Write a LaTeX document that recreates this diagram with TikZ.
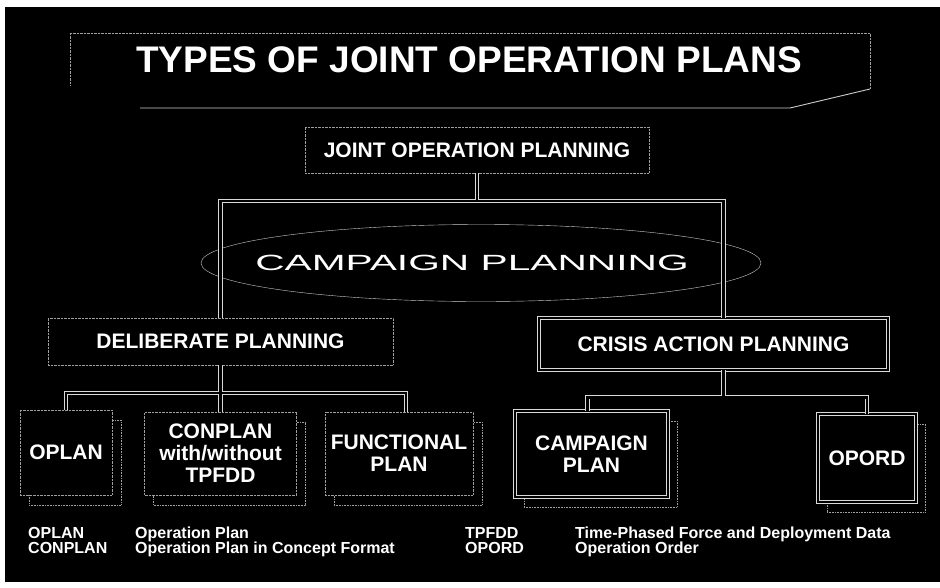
\documentclass[tikz,border=0pt]{standalone}
\usepackage{fontspec}
\setmainfont{Liberation Sans}
\usepackage{tikz}
\usetikzlibrary{shapes.geometric,shadows,positioning}
\newcommand{\titletxt}{\bfseries\fontsize{37}{40}\selectfont}
\newcommand{\plantxt}{\bfseries\fontsize{21}{22}\selectfont}
\newcommand{\notetxt}{\bfseries\fontsize{16}{15}\selectfont}
\tikzset{
  dotbox/.style={draw=gray!75, densely dotted, fill=black, text=white, font=\plantxt, align=center, inner sep=0pt},
  solidbox/.style={draw=white!85!black, double=black, double distance=2pt, line width=.7pt, fill=black, text=white, font=\plantxt, align=center, inner sep=0pt},
  boxshadow/.style={general shadow={shadow xshift=9pt, shadow yshift=-10pt, draw=gray!75, densely dotted, line width=.6pt, fill=black}},
  link/.style={draw=white!85!black, double=black, double distance=2.5pt, line width=.8pt},
  note/.style={text=white, font=\notetxt, anchor=base west, align=left, inner sep=0pt}
}

\begin{document}
\begin{tikzpicture}[x=1pt, y=-1pt]
  \useasboundingbox (0,0) rectangle (940,587);
  \fill[white] (0,0) rectangle (940,587);
  \fill[black] (5,7) rectangle (940,582);

  \draw[gray!75, densely dotted] (70,85) |- (870,33) -- (870,89);
  \draw[white!80!black, line width=.9pt] (140,108) -- (790,108) -- (870,89);
  \node[text=white, font=\titletxt, anchor=base] (title) at (469,72) {TYPES OF JOINT OPERATION PLANS};

  \node[dotbox, minimum width=344pt, minimum height=46pt] (jop) at (477,150) {JOINT OPERATION PLANNING};
  \node[draw=white!80!black, ellipse, minimum width=560pt, minimum height=77pt, inner sep=0pt, text=white,
        font=\fontsize{22}{24}\selectfont] (camp) at (481,263)
        {\makebox[0pt]{\hspace{-18pt}\scalebox{1.85}[1]{CAMPAIGN PLANNING}}};

  \node[dotbox, minimum width=345pt, minimum height=47pt] (delib) at (220.5,341.5) {DELIBERATE PLANNING};
  \node[solidbox, minimum width=349pt, minimum height=52pt] (crisis) at (713.5,344) {CRISIS ACTION PLANNING};

  \node[dotbox, boxshadow, minimum width=92pt, minimum height=85pt] (oplan) at (66,452.5) {OPLAN};
  \node[dotbox, boxshadow, minimum width=152pt, minimum height=83pt] (conplan) at (220.5,453.5) {CONPLAN\\with/without\\TPFDD};
  \node[dotbox, boxshadow, minimum width=148pt, minimum height=83pt] (functional) at (399,453.5) {FUNCTIONAL\\PLAN};
  \node[solidbox, boxshadow, minimum width=153pt, minimum height=86pt] (cplan) at (591.5,454) {CAMPAIGN\\PLAN};
  \node[solidbox, boxshadow, minimum width=98pt, minimum height=88pt] (opord) at (867,458) {OPORD};

  \draw[link] (jop.south) -- ++(0,28) coordinate (top)
    (top) -| (delib) (top) -| ([xshift=10pt]crisis.north);
  \draw[link] (delib.south) -- ++(0,28) coordinate (left)
    (left) -| (oplan) (left) -- (conplan) (left) -| ([xshift=7pt]functional.north);
  \draw[link] ([xshift=10pt]crisis.south) -- ++(0,27) coordinate (right)
    (right) -| ([xshift=-4pt]cplan.north) (right) -| (opord);

  \node[note] (abbr1) at (28,553) {OPLAN\\CONPLAN};
  \node[note] (long1) at (135,553) {Operation Plan\\Operation Plan in Concept Format};
  \node[note] (abbr2) at (465,553) {TPFDD\\OPORD};
  \node[note] (long2) at (575,553) {Time-Phased Force and Deployment Data\\Operation Order};
\end{tikzpicture}
\end{document}
